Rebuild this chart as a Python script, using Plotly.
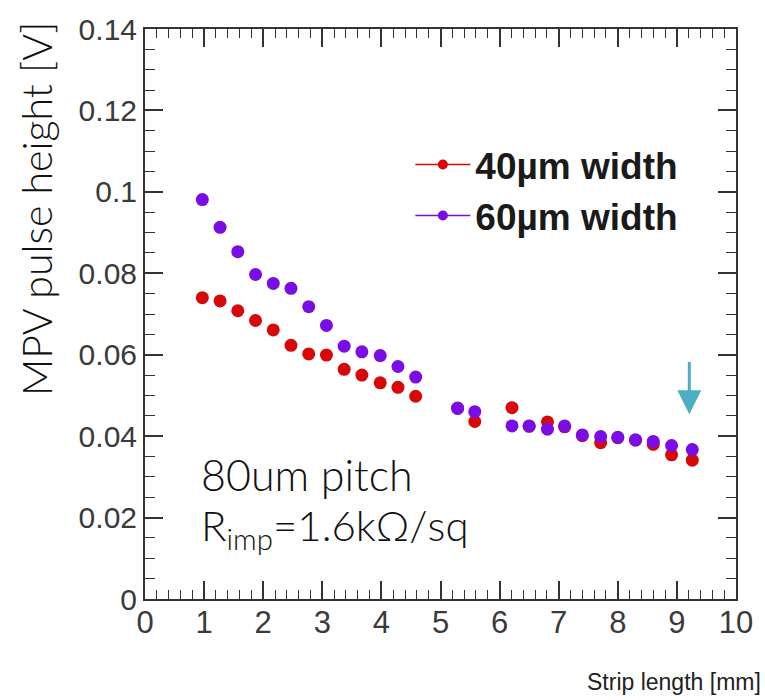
import plotly.graph_objects as go

# Strip lengths [mm] shared by both strip widths
strip_length = [0.97, 1.27, 1.57, 1.87, 2.17, 2.47, 2.77, 3.07, 3.37, 3.67, 3.98, 4.28, 4.58,
                5.29, 5.58, 6.21, 6.50, 6.81, 7.10, 7.40, 7.71, 8.00, 8.30, 8.60, 8.91, 9.26]

# MPV pulse height [V]
mpv_40um = [0.0740, 0.0732, 0.0708, 0.0684, 0.0661, 0.0623, 0.0602, 0.0599, 0.0564, 0.0550,
            0.0531, 0.0520, 0.0498, 0.0469, 0.0436, 0.0470, 0.0424, 0.0435, 0.0423, 0.0401,
            0.0384, 0.0396, 0.0390, 0.0380, 0.0354, 0.0341]
mpv_60um = [0.0981, 0.0913, 0.0853, 0.0797, 0.0775, 0.0763, 0.0718, 0.0672, 0.0621, 0.0607,
            0.0598, 0.0571, 0.0545, 0.0468, 0.0460, 0.0425, 0.0425, 0.0417, 0.0425, 0.0403,
            0.0399, 0.0397, 0.0391, 0.0387, 0.0377, 0.0367]

series_names = ["40\u00b5m width", "60\u00b5m width"]
series_colors = ["#d80808", "#7a0ce6"]

# arrow marking the longest strip
arrow_x = 9.21
arrow_tail_y = 0.0586
arrow_tip_y = 0.0454

fig = go.Figure()

for name, vals, col in zip(series_names, [mpv_40um, mpv_60um], series_colors):
    fig.add_trace(go.Scatter(
        x=strip_length, y=vals, mode="markers", showlegend=False,
        marker=dict(symbol="circle", size=13, color=col, line=dict(width=0)),
    ))

# legend entries (line + marker symbol)
for name, col in zip(series_names, series_colors):
    fig.add_trace(go.Scatter(
        x=[None], y=[None], mode="lines+markers", name=name,
        line=dict(color=col, width=1.5),
        marker=dict(symbol="circle", size=10, color=col),
    ))

frame_color = "#333333"
axis_common = dict(
    showline=True, linecolor=frame_color, linewidth=2, mirror="allticks",
    ticks="inside", tickcolor=frame_color, tickwidth=1.5,
    showgrid=False, zeroline=False,
)

fig.update_xaxes(
    range=[0, 10], tick0=0, dtick=1, ticklen=18, ticklabelstandoff=-5,
    minor=dict(dtick=0.2, ticks="inside", ticklen=9, tickcolor=frame_color, tickwidth=1.2, showgrid=False),
    tickfont=dict(family="Liberation Sans, Arial, sans-serif", size=31, color="#3a3a3a"),
    **axis_common,
)
fig.update_yaxes(
    range=[0, 0.14], tick0=0, dtick=0.02, ticklen=18,
    minor=dict(dtick=0.005, ticks="inside", ticklen=10, tickcolor=frame_color, tickwidth=1.2, showgrid=False),
    tickfont=dict(family="Liberation Sans, Arial, sans-serif", size=30, color="#3a3a3a"),
    **axis_common,
)

light_font = dict(family="Lato, 'Open Sans', sans-serif", color="#111111", weight=300)

fig.add_annotation(
    xref="paper", yref="paper", x=-0.1836, y=0.685, xanchor="center", yanchor="middle",
    text="MPV pulse height [V]", textangle=-90, showarrow=False,
    font=dict(size=41, **light_font),
)
fig.add_annotation(
    xref="paper", yref="paper", x=1.046, y=-0.145, xanchor="right", yanchor="middle",
    text="Strip length [mm]", showarrow=False,
    font=dict(family="Liberation Sans, Arial, sans-serif", size=23, color="#222222"),
)
fig.add_annotation(
    xref="paper", yref="paper", x=0.092, y=0.218, xanchor="left", yanchor="middle",
    text="80um pitch", showarrow=False,
    font=dict(size=43, **light_font),
)
fig.add_annotation(
    xref="paper", yref="paper", x=0.092, y=0.125, xanchor="left", yanchor="middle",
    text="R<sub>imp</sub>=1.6k\u03a9/sq", showarrow=False,
    font=dict(size=42, **light_font),
)
fig.add_annotation(
    x=arrow_x, y=arrow_tip_y, ax=arrow_x, ay=arrow_tail_y, axref="x", ayref="y",
    text="", showarrow=True, arrowhead=2, arrowsize=1.6, arrowwidth=3,
    arrowcolor="#4aaec4",
)

fig.update_layout(
    width=765, height=700,
    margin=dict(l=145, r=21, t=26, b=101),
    paper_bgcolor="white", plot_bgcolor="white",
    legend=dict(
        x=0.449, y=0.816, xanchor="left", yanchor="top",
        bgcolor="rgba(0,0,0,0)", borderwidth=0, itemwidth=55,
        font=dict(family="Liberation Sans, Arial, sans-serif", size=37, color="#1a1a1a", weight="bold"),
    ),
)

fig.write_html("out.html")
